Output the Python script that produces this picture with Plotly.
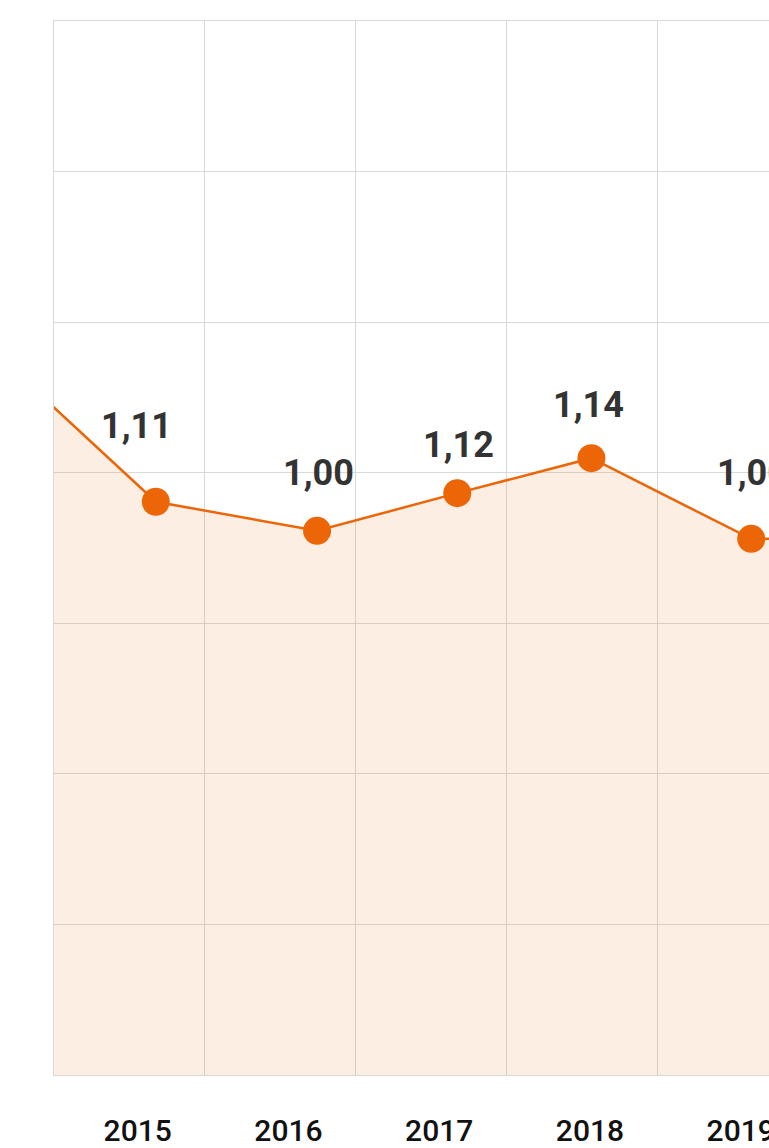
import plotly.graph_objects as go

# Data (points include one before and one after the visible window)
point_years = [2014.10, 2015.12, 2016.19, 2017.12, 2018.01, 2019.07, 2020.10]
point_values = [1.331, 1.066, 1.012, 1.082, 1.147, 0.997, 1.000]

label_years = [2015.12, 2016.19, 2017.12, 2018.01, 2019.07]
label_values = [1.066, 1.012, 1.082, 1.147, 0.997]
label_texts = ["1,11", "1,00", "1,12", "1,14", "1,00"]

tick_years = [2015, 2016, 2017, 2018, 2019]
tick_texts = ["2015", "2016", "2017", "2018", "2019"]

# label placement (style): pixel offsets from the points
label_dx = [-19, 1, 1, -3, 1]
label_dy = [76, 58, 48, 53, 66]

ORANGE = "#ec6608"
GRID = "#d9d9d9"

fig = go.Figure()
fig.add_trace(go.Scatter(
    x=point_years, y=point_values, mode="lines+markers",
    line=dict(color=ORANGE, width=2.5),
    marker=dict(color=ORANGE, size=28),
    fill="tozeroy", fillcolor="rgba(236,102,8,0.11)",
    hoverinfo="skip", cliponaxis=True,
))

for x, y, t, dx, dy in zip(label_years, label_values, label_texts, label_dx, label_dy):
    fig.add_annotation(x=x, y=y, text=t, showarrow=False,
                       xshift=dx, yshift=dy, xanchor="center", yanchor="middle",
                       font=dict(family="Roboto", size=36, color="#333333", weight="bold"))

x0 = 2014.445
fig.update_xaxes(
    range=[x0, x0 + 715 / 150.75], automargin=False,
    tickvals=tick_years, ticktext=tick_texts,
    showgrid=False, zeroline=False,
    showline=True, mirror=True, linecolor=GRID, linewidth=1,
    ticks="", ticklabelstandoff=29, ticklabeloverflow="allow",
    tickfont=dict(family="Roboto", size=30, color="#111111", weight=500),
    minor=dict(tick0=x0, dtick=1, showgrid=True, gridcolor=GRID, gridwidth=1, ticks=""),
)
fig.update_yaxes(
    range=[0, 1.96], dtick=0.28, tick0=0, automargin=False,
    showticklabels=False, showgrid=True, gridcolor=GRID, gridwidth=1,
    zeroline=False, showline=True, linecolor=GRID, linewidth=1,
)
fig.update_layout(
    width=769, height=1148,
    margin=dict(l=54, r=0, t=21, b=73, pad=0),
    plot_bgcolor="white", paper_bgcolor="white",
    showlegend=False,
    font=dict(family="Roboto"),
)
fig.write_html(
    "out.html",
    config={"displayModeBar": False},
    post_script="document.body.style.margin='0';document.body.style.overflow='hidden';"
                "document.documentElement.style.overflow='hidden';",
)
